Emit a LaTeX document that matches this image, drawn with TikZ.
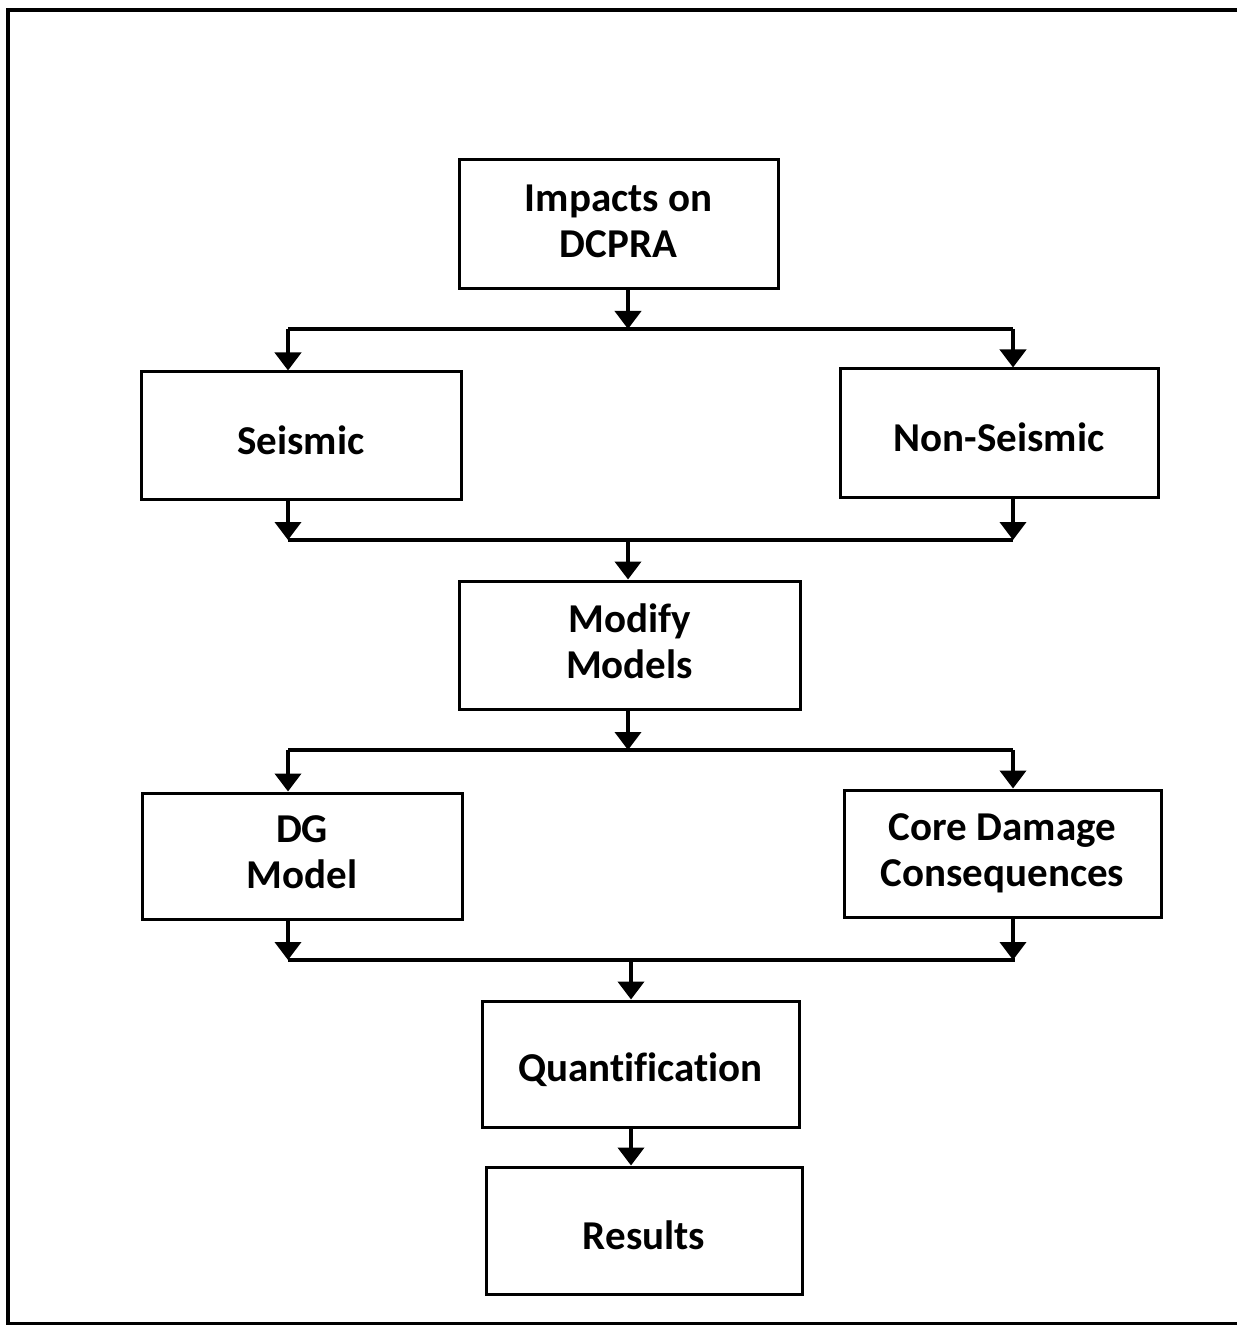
\documentclass[tikz,border=0pt]{standalone}
\usepackage{fontspec}
\setmainfont{Carlito}[Ligatures=NoCommon]
\usetikzlibrary{arrows.meta}
% shift a line of text vertically while keeping its box size
\newcommand{\shiftline}[2]{\raisebox{#1}[\height][\depth]{#2}}
\begin{document}
\begin{tikzpicture}[x=0.5pt,y=-0.5pt,
  box/.style 2 args={draw, line width=1.5pt, minimum width=#1*0.5pt,
    minimum height=#2*0.5pt, inner sep=0pt, align=center,
    font=\fontsize{20.5}{23}\selectfont\bfseries},
  link/.style={line width=2pt},
  arr/.style={line width=2pt, -{Triangle[width=13pt,length=9pt]}}]
\useasboundingbox (0,0) rectangle (1237,1325);
% page frame: left, top and bottom edges
\draw[line width=1.6pt] (1237,10) -- (8,10) -- (8,1324) -- (1237,1324);

% boxes
\node[box={319}{129}] (imp) at (618.5,224.5)
  {\shiftline{1.8pt}{Impacts on}\\\shiftline{1.8pt}{DCPRA}};
\node[box={320}{127}] (seis) at (301,435.5) {\shiftline{-2.5pt}{Seismic}};
\node[box={318}{128}] (nons) at (999,433) {\shiftline{-2.2pt}{Non-Seismic}};
\node[box={341}{128}] (mod) at (629.5,645)
  {\shiftline{2pt}{Modify}\\\shiftline{2pt}{Models}};
\node[box={320}{126}] (dg) at (302,856)
  {\shiftline{1.8pt}{DG}\\\shiftline{1.8pt}{Model}};
\node[box={317}{127}] (core) at (1002.5,853.5) {Core Damage\\Consequences};
\node[box={317}{126}] (quant) at (640.5,1064) {\shiftline{-3pt}{Quantification}};
\node[box={316}{127}] (res) at (644,1230.5) {\shiftline{-2.5pt}{Results}};

% junction bars
\coordinate (s1) at (628,329);
\coordinate (s1l) at (288,329);
\coordinate (s1r) at (1013,329);
\coordinate (m1) at (628,540);
\coordinate (m1l) at (288,540);
\coordinate (m1r) at (1013,540);
\coordinate (s2) at (628,750);
\coordinate (s2l) at (288,750);
\coordinate (s2r) at (1013,750);
\coordinate (m2) at (631,960);
\coordinate (m2l) at (288,960);
\coordinate (m2r) at (1015,960);

% split after Impacts
\draw[arr] (imp.south -| s1) -- (s1);
\draw[link] (s1l) -- (s1r);
\draw[arr] (s1l) -- (seis.north -| s1l);
\draw[arr] (s1r) -- (nons.north -| s1r);

% merge into Modify
\draw[arr] (seis.south -| m1l) -- (m1l);
\draw[arr] (nons.south -| m1r) -- (m1r);
\draw[link] (m1l) -- (m1r);
\draw[arr] (m1) -- (mod.north -| m1);

% split after Modify
\draw[arr] (mod.south -| s2) -- (s2);
\draw[link] (s2l) -- (s2r);
\draw[arr] (s2l) -- (dg.north -| s2l);
\draw[arr] (s2r) -- (core.north -| s2r);

% merge into Quantification
\draw[arr] (dg.south -| m2l) -- (m2l);
\draw[arr] (core.south -| s2r) -- (s2r |- m2);
\draw[link] (m2l) -- (m2r);
\draw[arr] (m2) -- (quant.north -| m2);

% Quantification to Results
\draw[arr] (quant.south -| m2) -- (res.north -| m2);
\end{tikzpicture}
\end{document}
